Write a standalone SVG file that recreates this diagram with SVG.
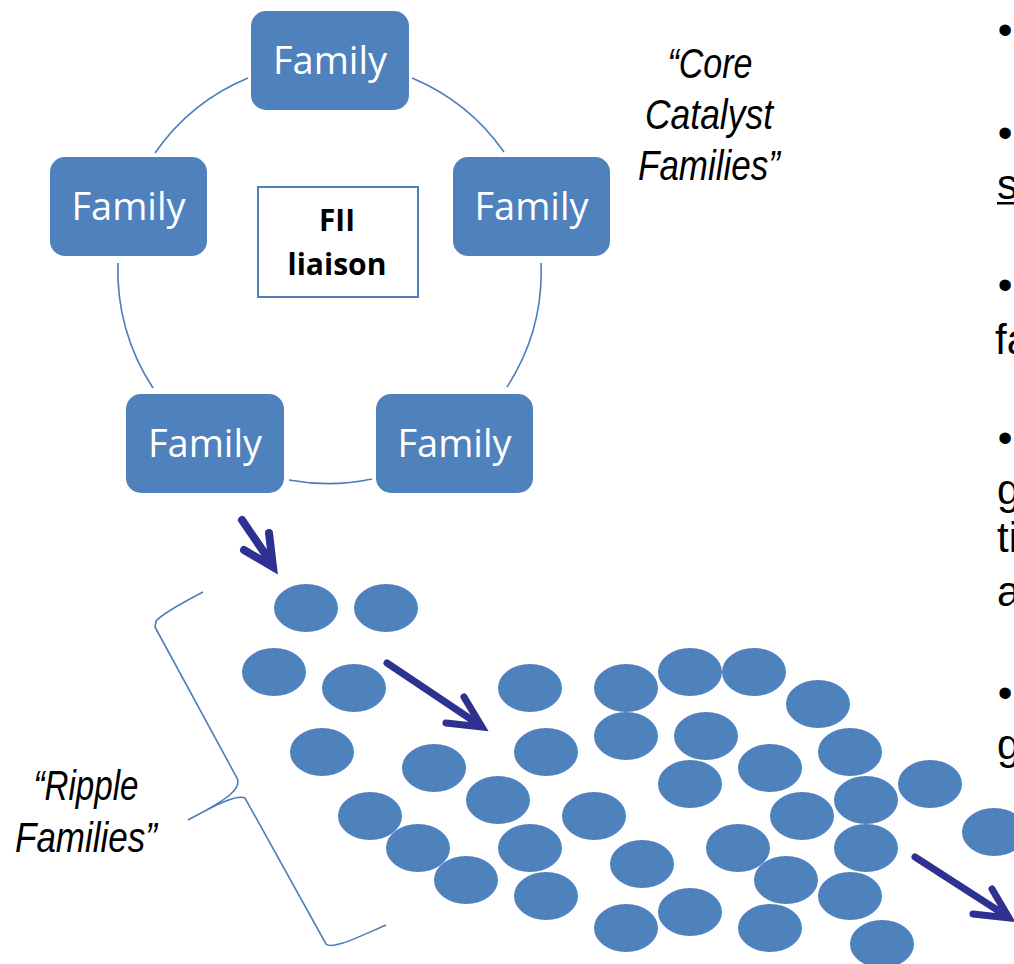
<svg xmlns="http://www.w3.org/2000/svg" width="1014" height="964" viewBox="0 0 1014 964">
<style>
.box{fill:#4F81BD;}
.ftxt{font-family:"Open Sans","Noto Sans",sans-serif;font-size:38px;fill:#FFFFFF;text-anchor:middle;}
.ring{fill:none;stroke:#4A7EBB;stroke-width:1.6;}
.dot{fill:#4F81BD;}
.arr{fill:none;stroke:#2E3192;stroke-width:7;stroke-linecap:round;stroke-linejoin:miter;stroke-miterlimit:10;}
.it{font-family:"Liberation Sans Narrow","Liberation Sans",Arial,sans-serif;font-style:italic;font-size:42px;fill:#000;text-anchor:middle;}
.rt{font-family:"Liberation Sans Narrow","Liberation Sans",Arial,sans-serif;font-size:42px;fill:#000;}
.fii{font-family:"Open Sans","Noto Sans",sans-serif;font-weight:700;font-size:31px;fill:#000;text-anchor:middle;}
</style>
<rect width="1014" height="964" fill="#FFFFFF"/>
<g id="connectors">
<path class="ring" d="M412,78 A212,212 0 0 1 504,152"/>
<path class="ring" d="M541,263 A212,212 0 0 1 507,387"/>
<path class="ring" d="M372,479 A212,212 0 0 1 289,480"/>
<path class="ring" d="M153,388 A212,212 0 0 1 118,263"/>
<path class="ring" d="M155,153 A212,212 0 0 1 248,78"/>
<path class="ring" d="M203,592 C182,603 162,614 156,621 L155,627 L237,778 C242,789 228,799 188,820 C214,806 236,794 245,798 L326,944 C332,950 356,938 386,925"/>
<path class="arr" style="stroke-width:8" d="M242,520 L270,561 M244,550 L273,567 L269,533"/>
<path class="arr" d="M387,663 L478,724 M446,723 L482,727 L464,697"/>
<path class="arr" d="M915,857 L1005,915 M973,914 L1009,918 L992,889"/>
</g>
<g id="family-top"><rect class="box" x="251" y="11" width="158" height="99" rx="15"/><text class="ftxt" x="330" y="74">Family</text></g>
<g id="family-left"><rect class="box" x="50" y="157" width="157" height="99" rx="15"/><text class="ftxt" x="128.5" y="220">Family</text></g>
<g id="family-right"><rect class="box" x="453" y="157" width="157" height="99" rx="15"/><text class="ftxt" x="531.5" y="220">Family</text></g>
<g id="family-bottom-left"><rect class="box" x="126" y="394" width="158" height="99" rx="15"/><text class="ftxt" x="205" y="457">Family</text></g>
<g id="family-bottom-right"><rect class="box" x="376" y="394" width="157" height="99" rx="15"/><text class="ftxt" x="454.5" y="457">Family</text></g>
<g id="fii-liaison">
<rect x="258" y="187" width="160" height="110" fill="#FFFFFF" stroke="#4F81BD" stroke-width="2"/>
<text class="fii" x="337" y="231" textLength="36" lengthAdjust="spacingAndGlyphs">FII</text>
<text class="fii" x="337" y="275" textLength="99" lengthAdjust="spacingAndGlyphs">liaison</text>
</g>
<g id="core-label">
<text class="it" x="710" y="78" textLength="85" lengthAdjust="spacingAndGlyphs">“Core</text>
<text class="it" x="709" y="129" textLength="128" lengthAdjust="spacingAndGlyphs">Catalyst</text>
<text class="it" x="709" y="180" textLength="142" lengthAdjust="spacingAndGlyphs">Families”</text>
</g>
<g id="ripple-label">
<text class="it" x="86" y="800" textLength="105" lengthAdjust="spacingAndGlyphs">“Ripple</text>
<text class="it" x="86" y="852" textLength="142" lengthAdjust="spacingAndGlyphs">Families”</text>
</g>
<g id="ripple-families">
<ellipse class="dot" cx="306" cy="608" rx="32" ry="24"/>
<ellipse class="dot" cx="386" cy="608" rx="32" ry="24"/>
<ellipse class="dot" cx="274" cy="672" rx="32" ry="24"/>
<ellipse class="dot" cx="354" cy="688" rx="32" ry="24"/>
<ellipse class="dot" cx="322" cy="752" rx="32" ry="24"/>
<ellipse class="dot" cx="530" cy="688" rx="32" ry="24"/>
<ellipse class="dot" cx="546" cy="752" rx="32" ry="24"/>
<ellipse class="dot" cx="434" cy="768" rx="32" ry="24"/>
<ellipse class="dot" cx="498" cy="800" rx="32" ry="24"/>
<ellipse class="dot" cx="370" cy="816" rx="32" ry="24"/>
<ellipse class="dot" cx="418" cy="848" rx="32" ry="24"/>
<ellipse class="dot" cx="466" cy="880" rx="32" ry="24"/>
<ellipse class="dot" cx="530" cy="848" rx="32" ry="24"/>
<ellipse class="dot" cx="546" cy="896" rx="32" ry="24"/>
<ellipse class="dot" cx="594" cy="816" rx="32" ry="24"/>
<ellipse class="dot" cx="626" cy="688" rx="32" ry="24"/>
<ellipse class="dot" cx="690" cy="672" rx="32" ry="24"/>
<ellipse class="dot" cx="754" cy="672" rx="32" ry="24"/>
<ellipse class="dot" cx="818" cy="704" rx="32" ry="24"/>
<ellipse class="dot" cx="626" cy="736" rx="32" ry="24"/>
<ellipse class="dot" cx="706" cy="736" rx="32" ry="24"/>
<ellipse class="dot" cx="770" cy="768" rx="32" ry="24"/>
<ellipse class="dot" cx="850" cy="752" rx="32" ry="24"/>
<ellipse class="dot" cx="690" cy="784" rx="32" ry="24"/>
<ellipse class="dot" cx="802" cy="816" rx="32" ry="24"/>
<ellipse class="dot" cx="866" cy="800" rx="32" ry="24"/>
<ellipse class="dot" cx="930" cy="784" rx="32" ry="24"/>
<ellipse class="dot" cx="994" cy="832" rx="32" ry="24"/>
<ellipse class="dot" cx="642" cy="864" rx="32" ry="24"/>
<ellipse class="dot" cx="738" cy="848" rx="32" ry="24"/>
<ellipse class="dot" cx="866" cy="848" rx="32" ry="24"/>
<ellipse class="dot" cx="786" cy="880" rx="32" ry="24"/>
<ellipse class="dot" cx="850" cy="896" rx="32" ry="24"/>
<ellipse class="dot" cx="626" cy="928" rx="32" ry="24"/>
<ellipse class="dot" cx="690" cy="912" rx="32" ry="24"/>
<ellipse class="dot" cx="770" cy="928" rx="32" ry="24"/>
<ellipse class="dot" cx="882" cy="944" rx="32" ry="24"/>
</g>
<g id="right-text">
<text class="rt" x="1005" y="44" text-anchor="middle">•</text>
<text class="rt" x="1005" y="147" text-anchor="middle">•</text>
<text class="rt" x="997" y="199">s</text>
<rect x="997" y="202" width="17" height="2.5" fill="#000"/>
<text class="rt" x="1005" y="299" text-anchor="middle">•</text>
<text class="rt" x="995" y="354">fa</text>
<text class="rt" x="1005" y="452" text-anchor="middle">•</text>
<text class="rt" x="997" y="504">g</text>
<text class="rt" x="997" y="552">ti</text>
<text class="rt" x="997" y="606">a</text>
<text class="rt" x="1005" y="707" text-anchor="middle">•</text>
<text class="rt" x="997" y="759">g</text>
</g>
</svg>
